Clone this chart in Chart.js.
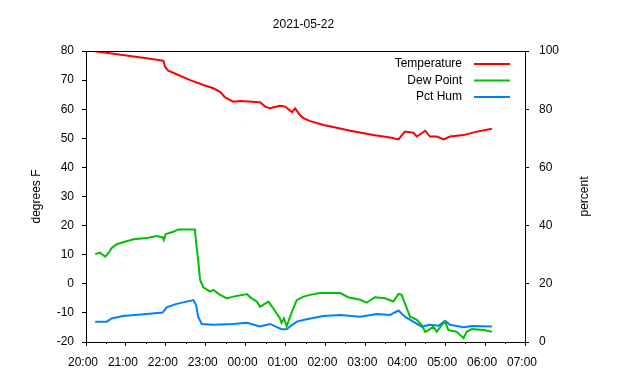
<!DOCTYPE html>
<html>
<head>
<meta charset="utf-8">
<script src="https://cdn.jsdelivr.net/npm/chart.js@4"></script>
<style>
  html, body { margin: 0; padding: 0; background: #fff; }
  #wrap { width: 640px; height: 380px; }
</style>
</head>
<body>
<div id="wrap"><canvas id="chart" width="640" height="380"></canvas></div>
<script>
// Hours after 20:00 on 2021-05-22
const chartTitle = '2021-05-22';
const hourLabels = ['20:00','21:00','22:00','23:00','00:00','01:00','02:00','03:00','04:00','05:00','06:00','07:00'];

// Temperature, degrees F
const tempTimes = [0.18,0.60,1.10,1.52,1.90,1.94,1.98,2.06,2.27,2.61,2.94,3.19,3.36,3.48,3.69,3.86,4.36,4.49,4.61,4.86,4.99,5.16,5.24,5.36,5.45,5.60,5.95,6.37,6.62,7.20,7.62,7.83,7.99,8.20,8.29,8.50,8.62,8.79,8.96,9.12,9.46,9.79,10.17];
const tempValues = [80.0,79.2,78.3,77.5,76.7,76.6,74.6,73.2,72.0,70.0,68.3,67.2,66.0,64.1,62.6,62.8,62.4,60.9,60.3,61.2,60.9,59.0,60.3,58.0,56.9,56.0,54.6,53.4,52.6,51.1,50.3,49.6,52.3,51.9,50.6,52.6,50.6,50.6,49.6,50.6,51.1,52.3,53.3];

// Dew point, degrees F
const dewTimes = [0.23,0.35,0.48,0.56,0.64,0.77,0.93,1.19,1.52,1.77,1.92,1.95,2.00,2.19,2.31,2.73,2.76,2.81,2.86,2.94,3.11,3.19,3.36,3.53,3.69,3.94,4.03,4.15,4.28,4.36,4.57,4.69,4.86,4.90,4.96,5.03,5.16,5.28,5.45,5.61,5.86,6.37,6.57,6.87,7.03,7.24,7.49,7.70,7.83,7.91,7.99,8.12,8.29,8.41,8.50,8.58,8.70,8.79,8.91,9.00,9.08,9.29,9.46,9.54,9.67,9.96,10.17];
const dewValues = [10.2,10.7,9.3,10.5,12.2,13.6,14.3,15.3,15.7,16.4,16.0,15.0,17.1,17.9,18.7,18.7,13.9,8.2,1.3,-1.2,-2.7,-2.1,-3.8,-5.0,-4.4,-3.8,-3.5,-5.0,-6.1,-7.9,-6.1,-8.4,-11.9,-13.4,-11.9,-14.5,-9.6,-5.6,-4.4,-3.8,-3.2,-3.2,-4.6,-5.5,-6.5,-4.6,-5.0,-6.1,-3.5,-3.8,-6.7,-11.3,-12.4,-14.2,-16.5,-15.9,-14.7,-16.5,-14.2,-13.0,-15.9,-16.5,-18.7,-16.5,-15.5,-15.9,-16.5];

// Relative humidity, percent
const humTimes = [0.23,0.52,0.64,0.93,1.52,1.92,2.02,2.27,2.69,2.76,2.81,2.90,3.19,3.69,4.03,4.36,4.61,4.90,5.03,5.11,5.28,5.53,5.95,6.37,6.87,7.29,7.62,7.83,7.99,8.20,8.41,8.62,8.83,9.00,9.12,9.46,9.67,10.17];
const humValues = [7.0,7.0,8.1,8.9,9.6,10.1,11.9,13.1,14.4,12.7,8.7,6.2,5.9,6.2,6.6,5.3,6.2,4.4,4.4,5.3,7.0,7.8,8.9,9.3,8.7,9.6,9.3,10.8,8.7,7.0,5.3,5.9,5.6,7.3,5.9,5.1,5.5,5.3];

const FONT = '"Liberation Sans", Arial, Helvetica, sans-serif';

function toPoints(times, values) {
  return times.map((t, i) => ({ x: t, y: values[i] }));
}

// gnuplot-like extras: title, top border, minor x ticks, rotated axis titles, legend
const extras = {
  id: 'extras',
  afterDraw(chart) {
    const ctx = chart.ctx;
    const a = chart.chartArea;
    const x = chart.scales.x;
    ctx.save();
    ctx.strokeStyle = '#000';
    ctx.lineWidth = 1;
    // top border
    ctx.beginPath();
    ctx.moveTo(a.left, a.top + 0.5);
    ctx.lineTo(a.right, a.top + 0.5);
    ctx.stroke();
    // half-hour minor ticks
    ctx.beginPath();
    for (let h = 0.5; h < 11; h += 1) {
      const px = Math.round(x.getPixelForValue(h)) + 0.5;
      ctx.moveTo(px, a.bottom);
      ctx.lineTo(px, a.bottom + 2);
    }
    ctx.stroke();

    ctx.fillStyle = '#000';
    ctx.font = '12px ' + FONT;
    ctx.textAlign = 'center';
    ctx.textBaseline = 'middle';
    // title, centred over the plot area
    ctx.fillText(chartTitle, (a.left + a.right) / 2 - 2, 25);

    // axis titles, both reading bottom to top
    const midY = (a.top + a.bottom) / 2;
    [[37, 'degrees F'], [585, 'percent']].forEach(([tx, txt]) => {
      ctx.save();
      ctx.translate(tx, midY);
      ctx.rotate(-Math.PI / 2);
      ctx.fillText(txt, 0, 0);
      ctx.restore();
    });

    // legend in top-right corner
    ctx.textAlign = 'right';
    chart.data.datasets.forEach((ds, i) => {
      const ly = 64 + i * 16.5;
      ctx.fillStyle = '#000';
      ctx.fillText(ds.label, 462, ly);
      ctx.strokeStyle = ds.borderColor;
      ctx.lineWidth = 2;
      ctx.beginPath();
      ctx.moveTo(474, ly);
      ctx.lineTo(510, ly);
      ctx.stroke();
    });
    ctx.restore();
  }
};

new Chart(document.getElementById('chart'), {
  type: 'line',
  data: {
    datasets: [
      { label: 'Temperature', data: toPoints(tempTimes, tempValues), borderColor: '#ff0000', yAxisID: 'y' },
      { label: 'Dew Point', data: toPoints(dewTimes, dewValues), borderColor: '#00c000', yAxisID: 'y' },
      { label: 'Pct Hum', data: toPoints(humTimes, humValues), borderColor: '#0080ff', yAxisID: 'y2' },
    ]
  },
  options: {
    responsive: false,
    animation: false,
    layout: { padding: { top: 51 } },
    elements: {
      point: { radius: 0 },
      line: { borderWidth: 2, tension: 0 }
    },
    plugins: {
      legend: { display: false },
      tooltip: { enabled: false },
      title: { display: false }
    },
    scales: {
      x: {
        type: 'linear',
        min: 0, max: 11,
        afterFit(s) { s.height = 38; },
        grid: { drawOnChartArea: false, color: '#000', tickLength: 4 },
        border: { color: '#000' },
        ticks: {
          stepSize: 1,
          color: '#000',
          padding: 9,
          labelOffset: -3,
          maxRotation: 0,
          font: { family: FONT, size: 12 },
          callback: v => hourLabels[Math.round(v)]
        }
      },
      y: {
        position: 'left',
        min: -20, max: 80,
        afterFit(s) { s.width = 86; },
        grid: { drawOnChartArea: false, color: '#000', tickLength: 4 },
        border: { color: '#000' },
        ticks: { stepSize: 10, color: '#000', padding: 8, font: { family: FONT, size: 12 } }
      },
      y2: {
        position: 'right',
        min: 0, max: 100,
        afterFit(s) { s.width = 115; },
        grid: { drawOnChartArea: false, color: '#000', tickLength: 4 },
        border: { color: '#000' },
        ticks: { stepSize: 20, color: '#000', padding: 10, font: { family: FONT, size: 12 } }
      }
    }
  },
  plugins: [extras]
});
</script>
</body>
</html>
